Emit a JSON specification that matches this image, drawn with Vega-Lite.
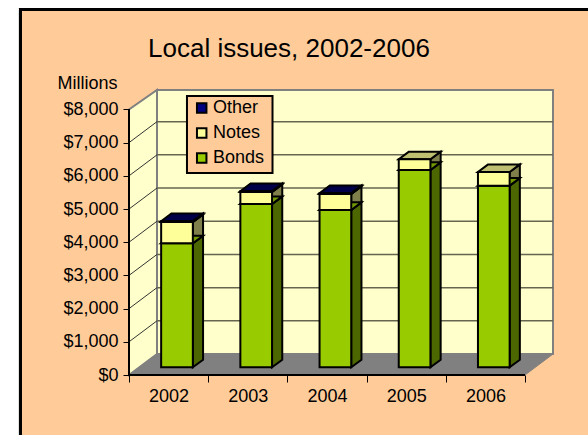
{
"$schema":"https://vega.github.io/schema/vega-lite/v6.json",
"width":424,"height":285,
"autosize":"none",
"padding":{"left":129,"top":90,"right":35,"bottom":60},
"background":"#FFFFFF",
"title":{"text":"Local issues, 2002-2006","frame":"group","font":"Liberation Sans","fontSize":26,"fontWeight":"normal","color":"#000000","anchor":"start","dx":19,"offset":-54},
"config":{"view":{"stroke":null},"font":"Liberation Sans"},
"datasets":{
"bars":[
{"year":2002,"series":"Bonds","value":3736,"order":1},{"year":2002,"series":"Notes","value":642,"order":2},{"year":2002,"series":"Other","value":25,"order":3},
{"year":2003,"series":"Bonds","value":4920,"order":1},{"year":2003,"series":"Notes","value":362,"order":2},{"year":2003,"series":"Other","value":25,"order":3},
{"year":2004,"series":"Bonds","value":4740,"order":1},{"year":2004,"series":"Notes","value":482,"order":2},{"year":2004,"series":"Other","value":25,"order":3},
{"year":2005,"series":"Bonds","value":5945,"order":1},{"year":2005,"series":"Notes","value":322,"order":2},{"year":2005,"series":"Other","value":0,"order":3},
{"year":2006,"series":"Bonds","value":5472,"order":1},{"year":2006,"series":"Notes","value":412,"order":2},{"year":2006,"series":"Other","value":0,"order":3}
],
"corners":[{"c":0},{"c":1}],
"levels":[{"level":1000},{"level":2000},{"level":3000},{"level":4000},{"level":5000},{"level":6000},{"level":7000}],
"key":[{"series":"Other","rank":0},{"series":"Notes","rank":1},{"series":"Bonds","rank":2}]
},
"data":{"name":"bars"},
"transform":[
{"stack":"value","groupby":["year"],"sort":[{"field":"order","order":"ascending"}],"as":["lo","hi"]},
{"calculate":"datum.year-2002+0.5+0.106-0.2","as":"fx0"},
{"calculate":"datum.fx0+0.4","as":"fx1"},
{"calculate":"datum.lo+232","as":"fy0"},
{"calculate":"datum.hi+232","as":"fy1"}
],
"encoding":{
"x":{"type":"quantitative","scale":{"domain":[0,5.3535],"nice":false,"zero":false}},
"y":{"type":"quantitative","scale":{"domain":[0,8586],"nice":false,"zero":false}}
},
"layer":[
{"mark":{"type":"rect","fill":"#FFCC99","stroke":"#000000","strokeWidth":3,"clip":false},
 "encoding":{"x":{"datum":-1.37,"type":"quantitative","axis":{"values":[0,0.5,1,1.5,2,2.5,3,3.5,4,4.5,5],"tickCount":30,"title":null,"grid":false,"domain":false,"zindex":1,"tickColor":"#000000","tickSize":7,"tickOpacity":{"condition":{"test":"datum.value % 1 === 0","value":1},"value":0},"labelExpr":"datum.value % 1 === 0 ? '' : format(2002+datum.value-0.5,'d')","labelFontSize":18,"labelColor":"#000000","labelPadding":5,"labelFlush":false,"labelOverlap":false},"scale":{"domain":[0,5.3535],"nice":false,"zero":false}},
 "x2":{"datum":5.95},
 "y":{"datum":11011,"type":"quantitative","axis":{"values":[0,1000,2000,3000,4000,5000,6000,7000,8000],"tickCount":30,"grid":false,"domain":false,"zindex":1,"format":"$,d","tickColor":"#000000","tickSize":6,"labelFontSize":18,"labelColor":"#000000","labelPadding":5,"labelOverlap":false,"title":"Millions","titleAngle":0,"titleFontWeight":"normal","titleFontSize":18,"titleColor":"#000000","titleAlign":"left","titleBaseline":"alphabetic","titleX":-72,"titleY":-2},"scale":{"domain":[0,8586],"nice":false,"zero":false}},
 "y2":{"datum":-2110}}},
{"data":{"name":"corners"},"transform":[{"calculate":"0.3535+5*datum.c","as":"px"}],
 "mark":{"type":"area","orient":"vertical","fill":"#FFFFCC","stroke":"#808080","strokeWidth":2},
 "encoding":{"x":{"field":"px","type":"quantitative"},"y":{"datum":632,"type":"quantitative"},"y2":{"datum":8586}}},
{"data":{"name":"corners"},"transform":[{"calculate":"0.3535*datum.c","as":"px"},{"calculate":"632*datum.c","as":"py0"},{"calculate":"8000+586*datum.c","as":"py1"}],
 "mark":{"type":"area","fill":"#FFFFCC","stroke":"#808080","strokeWidth":2},
 "encoding":{"x":{"field":"px","type":"quantitative"},"y":{"field":"py0","type":"quantitative"},"y2":{"field":"py1"}}},
{"data":{"name":"levels"},"mark":{"type":"rule","stroke":"#666650","strokeWidth":1.5},
 "transform":[{"calculate":"datum.level+632","as":"by"}],
 "encoding":{"x":{"datum":0.3535,"type":"quantitative"},"x2":{"datum":5.3535},"y":{"field":"by","type":"quantitative"}}},
{"data":{"name":"levels"},"mark":{"type":"rule","stroke":"#333333","strokeWidth":1},
 "transform":[{"calculate":"datum.level+632","as":"by"}],
 "encoding":{"x":{"datum":0,"type":"quantitative"},"x2":{"datum":0.3535},"y":{"field":"level","type":"quantitative"},"y2":{"field":"by"}}},
{"data":{"name":"corners"},"transform":[{"calculate":"632*datum.c","as":"py"},{"calculate":"0.3535*datum.c","as":"px0"},{"calculate":"5+0.3535*datum.c","as":"px1"}],
 "mark":{"type":"area","orient":"horizontal","fill":"#808080","stroke":"#808080","strokeWidth":1},
 "encoding":{"y":{"field":"py","type":"quantitative"},"x":{"field":"px0","type":"quantitative"},"x2":{"field":"px1"}}},
{"mark":{"type":"rule","stroke":"#000000","strokeWidth":1.5},"encoding":{"x":{"datum":0,"type":"quantitative"},"y":{"datum":0,"type":"quantitative"},"y2":{"datum":8000}}},
{"mark":{"type":"rule","stroke":"#000000","strokeWidth":1.5},"encoding":{"x":{"datum":0,"type":"quantitative"},"x2":{"datum":5},"y":{"datum":0,"type":"quantitative"}}},
{"transform":[{"filter":"datum.value>0"},{"calculate":"[0,1]","as":"cs"},{"flatten":["cs"]},{"calculate":"datum.fx1+0.129*datum.cs","as":"sx"},{"calculate":"datum.fy0+229*datum.cs","as":"sy0"},{"calculate":"datum.fy1+229*datum.cs","as":"sy1"},{"calculate":"datum.year+datum.series","as":"face"}],
 "layer":[
 {"mark":{"type":"area","stroke":"#000000","strokeWidth":2,"strokeJoin":"miter"},"encoding":{"x":{"field":"sx","type":"quantitative"},"y":{"field":"sy0","type":"quantitative"},"y2":{"field":"sy1"},"detail":{"field":"face"},"fill":{"field":"series","type":"nominal","scale":{"domain":["Other","Notes","Bonds"],"range":["#000080","#FFFF99","#99CC00"]},"legend":null}}},
 {"mark":{"type":"area","fill":"#000000","fillOpacity":0.5},"encoding":{"x":{"field":"sx","type":"quantitative"},"y":{"field":"sy0","type":"quantitative"},"y2":{"field":"sy1"},"detail":{"field":"face"}}}
 ]},
{"transform":[{"filter":"datum.value>0"},{"calculate":"[0,1]","as":"cs"},{"flatten":["cs"]},{"calculate":"datum.fy1+229*datum.cs","as":"ty"},{"calculate":"datum.fx0+0.129*datum.cs","as":"tx0"},{"calculate":"datum.fx1+0.129*datum.cs","as":"tx1"},{"calculate":"datum.year+datum.series","as":"face"}],
 "layer":[
 {"mark":{"type":"area","orient":"horizontal","stroke":"#000000","strokeWidth":2,"strokeJoin":"miter"},"encoding":{"y":{"field":"ty","type":"quantitative"},"x":{"field":"tx0","type":"quantitative"},"x2":{"field":"tx1"},"detail":{"field":"face"},"fill":{"field":"series","type":"nominal","scale":{"domain":["Other","Notes","Bonds"],"range":["#000080","#FFFF99","#99CC00"]},"legend":null}}},
 {"mark":{"type":"area","orient":"horizontal","fill":"#000000","fillOpacity":0.25},"encoding":{"y":{"field":"ty","type":"quantitative"},"x":{"field":"tx0","type":"quantitative"},"x2":{"field":"tx1"},"detail":{"field":"face"}}}
 ]},
{"transform":[{"filter":"datum.value>0"}],"mark":{"type":"rect","stroke":"#000000","strokeWidth":2,"strokeJoin":"miter"},
 "encoding":{"x":{"field":"fx0","type":"quantitative"},"x2":{"field":"fx1"},"y":{"field":"fy0","type":"quantitative"},"y2":{"field":"fy1"},
 "color":{"field":"series","type":"nominal","scale":{"domain":["Other","Notes","Bonds"],"range":["#000080","#FFFF99","#99CC00"]},"legend":null}}},
{"data":{"name":"corners"},"transform":[{"filter":"datum.c==0"}],"mark":{"type":"rect","fill":"#FFCC99","stroke":"#000000","strokeWidth":2},
 "encoding":{"x":{"datum":0.732,"type":"quantitative"},"x2":{"datum":1.812},"y":{"datum":8405,"type":"quantitative"},"y2":{"datum":6085}}},
{"data":{"name":"key"},"transform":[{"calculate":"8044-753*datum.rank","as":"ky"}],
 "mark":{"type":"point","shape":"square","filled":true,"size":90,"opacity":1,"stroke":"#000000","strokeWidth":2},
 "encoding":{"x":{"datum":0.918,"type":"quantitative"},"y":{"field":"ky","type":"quantitative"},"color":{"field":"series","type":"nominal","scale":{"domain":["Other","Notes","Bonds"],"range":["#000080","#FFFF99","#99CC00"]},"legend":null}}},
{"data":{"name":"key"},"transform":[{"calculate":"8044-753*datum.rank","as":"ky"}],
 "mark":{"type":"text","align":"left","baseline":"middle","font":"Liberation Sans","fontSize":18,"fill":"#000000"},
 "encoding":{"x":{"datum":1.06,"type":"quantitative"},"y":{"field":"ky","type":"quantitative"},"text":{"field":"series"}}}
]
}
